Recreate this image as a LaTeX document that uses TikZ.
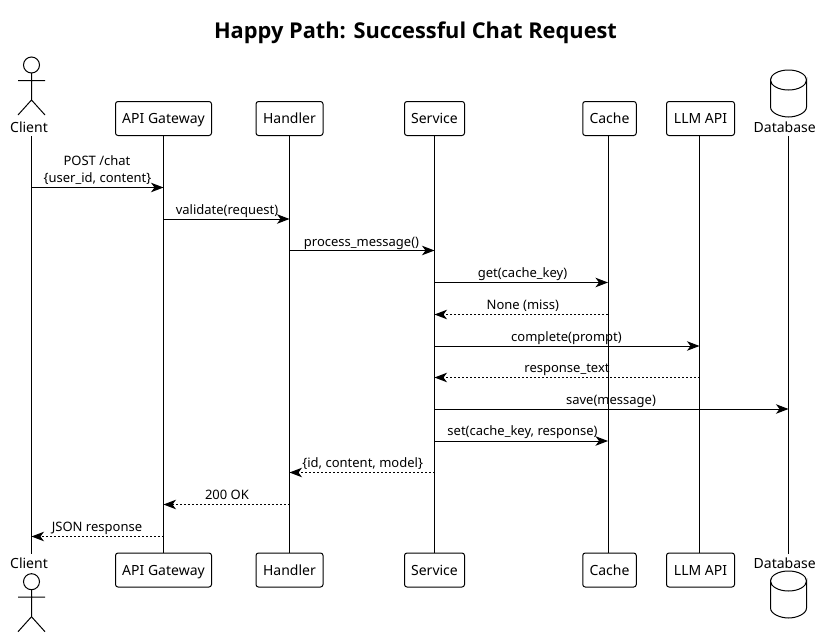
\documentclass[tikz,border=0pt]{standalone}
\usepackage{fontspec}
\setmainfont{Noto Sans}
\newfontfamily\titlefont{Open Sans}
\usetikzlibrary{arrows.meta}
\tikzset{
  pbox/.style={draw,rounded corners=2.5pt,line width=1pt,minimum height=34pt,inner sep=0pt,font=\fontsize{14}{16}\selectfont,text height=10pt,text depth=3pt},
  lbl/.style={font=\fontsize{13}{15}\selectfont,inner sep=0pt,text height=9.5pt,text depth=3pt},
  actname/.style={font=\fontsize{14}{16}\selectfont,inner sep=0pt,text height=10pt,text depth=3pt},
  life/.style={line width=1pt},
  shapeln/.style={line width=1pt},
  call/.style={line width=1pt,-{Stealth[length=12.5pt,width=9.5pt,inset=3.5pt]}},
  ret/.style={line width=1pt,dash pattern=on 2pt off 2pt,-{Stealth[length=12.5pt,width=9.5pt,inset=3.5pt]}},
}
\newcommand{\dbcyl}[2]{%
  \draw[shapeln] (#1-18,#2+10) arc[start angle=180,end angle=0,x radius=18,y radius=10] -- (#1+18,#2+37)
    .. controls (#1+18,#2+43) and (#1+8,#2+47) .. (#1,#2+47) .. controls (#1-8,#2+47) and (#1-18,#2+43) .. (#1-18,#2+37) -- cycle;
  \draw[shapeln] (#1-18,#2+10) arc[start angle=180,end angle=360,x radius=18,y radius=10];
}
\newcommand{\stick}[2]{%
  \draw[shapeln] (#1,#2) circle[radius=8];
  \draw[shapeln] (#1,#2+8) -- (#1,#2+35) (#1-13.5,#2+15.5) -- (#1+13.5,#2+15.5) (#1-13.5,#2+50) -- (#1,#2+35) -- (#1+13.5,#2+50);
}
\newcommand{\msg}[4]{\draw[#1] (#2|-0,#4) -- (#3|-0,#4);}
\begin{document}
\begin{tikzpicture}[x=1pt,y=-1pt]
\useasboundingbox[fill=white] (0,0) rectangle (822,637);
\node[font=\fontsize{21.8}{24}\selectfont\titlefont\bfseries] (title) at (415.5,33) {Happy Path: Successful Chat Request};
% participants
\node[actname] (clientT) at (29,129) {Client};
\node[actname] (clientB) at (29,565) {Client};
\node[pbox,minimum width=96pt] (apiT) at (163.5,118.5) {\raisebox{-1.5pt}{API Gateway}};
\node[pbox,minimum width=96pt] (apiB) at (163.5,570) {\raisebox{-1.5pt}{API Gateway}};
\node[pbox,minimum width=67pt] (handlerT) at (289.5,118.5) {\raisebox{-1.5pt}{Handler}};
\node[pbox,minimum width=67pt] (handlerB) at (289.5,570) {\raisebox{-1.5pt}{Handler}};
\node[pbox,minimum width=60pt] (serviceT) at (434.5,118.5) {\raisebox{-1.5pt}{Service}};
\node[pbox,minimum width=60pt] (serviceB) at (434.5,570) {\raisebox{-1.5pt}{Service}};
\node[pbox,minimum width=53.5pt] (cacheT) at (609.5,118.5) {\raisebox{-1.5pt}{Cache}};
\node[pbox,minimum width=53.5pt] (cacheB) at (609.5,570) {\raisebox{-1.5pt}{Cache}};
\node[pbox,minimum width=68pt] (llmT) at (700.5,118.5) {\raisebox{-1.5pt}{LLM API}};
\node[pbox,minimum width=68pt] (llmB) at (700.5,570) {\raisebox{-1.5pt}{LLM API}};
\node[actname] (dbT) at (784.7,129) {Database};
\node[actname] (dbB) at (784.7,565) {Database};
% lifeline anchors
\coordinate (client) at (31.5,136);
\coordinate (clientE) at (31.5,554);
\coordinate (api) at (163.5,135.5);
\coordinate (handler) at (289.5,135.5);
\coordinate (service) at (434.5,135.5);
\coordinate (cache) at (608,135.5);
\coordinate (llm) at (699.5,135.5);
\coordinate (db) at (788.5,136);
\coordinate (dbE) at (788.5,554);
\draw[life] (client) -- (clientE);
\draw[life] (db) -- (dbE);
\draw[life] (api) -- (api|-apiB.north);
\draw[life] (handler) -- (handler|-handlerB.north);
\draw[life] (service) -- (service|-serviceB.north);
\draw[life] (cache) -- (cache|-cacheB.north);
\draw[life] (llm) -- (llm|-llmB.north);
% actors and databases
\stick{31.5}{65}
\stick{31.5}{581.7}
\dbcyl{788.5}{70}
\dbcyl{788.5}{571}
% messages
\msg{call}{client}{api}{187.5}
\msg{call}{api}{handler}{219}
\msg{call}{handler}{service}{250.5}
\msg{call}{service}{cache}{282.5}
\msg{ret}{cache}{service}{314.5}
\msg{call}{service}{llm}{346}
\msg{ret}{llm}{service}{377.5}
\msg{call}{service}{db}{409}
\msg{call}{service}{cache}{441}
\msg{ret}{service}{handler}{472.5}
\msg{ret}{handler}{api}{504.5}
\msg{ret}{api}{client}{536.5}
% labels
\node[lbl] (l1a) at (97,162.5) {POST /chat};
\node[lbl] (l1b) at (97.5,179.5) {\{user\_id, content\}};
\node[lbl] (l2) at (227,211) {validate(request)};
\node[lbl] (l3) at (361.5,243) {process\_message()};
\node[lbl] (l4) at (522.5,274) {get(cache\_key)};
\node[lbl] (l5) at (522.8,306) {None (miss)};
\node[lbl] (l6) at (566.5,338) {complete(prompt)};
\node[lbl] (l7) at (567,369.5) {response\_text};
\node[lbl] (l8) at (611,401) {save(message)};
\node[lbl] (l9) at (522.5,432.5) {set(cache\_key, response)};
\node[lbl] (l10) at (362.7,464.5) {\{id, content, model\}};
\node[lbl] (l11) at (227,496.5) {200 OK};
\node[lbl] (l12) at (97,528) {JSON response};
\end{tikzpicture}
\end{document}
